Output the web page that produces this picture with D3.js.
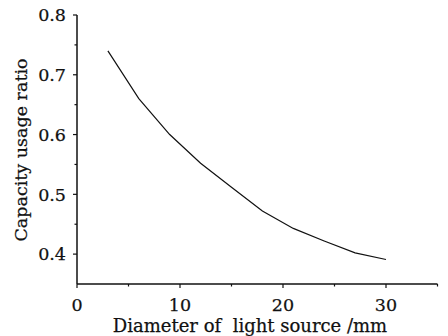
<!DOCTYPE html>
<html>
<head>
<meta charset="utf-8">
<script src="https://cdn.jsdelivr.net/npm/d3@7"></script>
<style>
  body { margin: 0; background: #fff; }
  svg text { font-family: "DejaVu Serif", serif; fill: #111; stroke: #111; stroke-width: 0.25; }
</style>
</head>
<body>
<svg id="chart" width="448" height="336"></svg>
<script>
// diameter of light source (mm) and capacity usage ratio
const diameters = [3, 6, 9, 12, 15, 18, 21, 24, 27, 30];
const ratios = [0.74, 0.66, 0.60, 0.552, 0.512, 0.472, 0.443, 0.422, 0.402, 0.391];
const xTicks = [0, 10, 20, 30];
const yTicks = [0.4, 0.5, 0.6, 0.7, 0.8];

const svg = d3.select("#chart");

const x = d3.scaleLinear().domain([0, 35]).range([77, 437.5]);
const y = d3.scaleLinear().domain([0.35, 0.8]).range([284, 15]);

// bottom axis
const xAxis = svg.append("g").attr("transform", "translate(0,284)");
xAxis.append("line")
  .attr("x1", x(0)).attr("x2", x(35))
  .attr("stroke", "#111").attr("stroke-width", 1.5);
xAxis.selectAll(".minor").data([5, 15, 25, 35]).enter().append("line")
  .attr("x1", d => x(d)).attr("x2", d => x(d))
  .attr("y1", 0).attr("y2", 2.5)
  .attr("stroke", "#111").attr("stroke-width", 1.2);
xAxis.selectAll(".major").data(xTicks).enter().append("line")
  .attr("x1", d => x(d)).attr("x2", d => x(d))
  .attr("y1", 0).attr("y2", 4)
  .attr("stroke", "#111").attr("stroke-width", 1.2);
xAxis.selectAll("text").data(xTicks).enter().append("text")
  .attr("x", d => x(d)).attr("y", 27)
  .attr("text-anchor", "middle")
  .attr("font-size", 17.5)
  .text(d => d);

// left axis
const yAxis = svg.append("g").attr("transform", "translate(77,0)");
yAxis.append("line")
  .attr("y1", y(0.35)).attr("y2", y(0.8))
  .attr("stroke", "#111").attr("stroke-width", 1.5);
yAxis.selectAll(".minor").data([0.45, 0.55, 0.65, 0.75]).enter().append("line")
  .attr("y1", d => y(d)).attr("y2", d => y(d))
  .attr("x1", 0).attr("x2", -2.5)
  .attr("stroke", "#111").attr("stroke-width", 1.2);
yAxis.selectAll(".major").data(yTicks).enter().append("line")
  .attr("y1", d => y(d)).attr("y2", d => y(d))
  .attr("x1", 0).attr("x2", -4)
  .attr("stroke", "#111").attr("stroke-width", 1.2);
yAxis.selectAll("text").data(yTicks).enter().append("text")
  .attr("x", -11).attr("y", d => y(d))
  .attr("dy", "0.36em")
  .attr("text-anchor", "end")
  .attr("font-size", 17.5)
  .text(d => d3.format(".1f")(d));

// axis titles
svg.append("text")
  .attr("x", 250).attr("y", 332)
  .attr("text-anchor", "middle")
  .attr("font-size", 18)
  .style("white-space", "pre")
  .text("Diameter of  light source /mm");

svg.append("text")
  .attr("transform", "translate(27,150) rotate(-90)")
  .attr("text-anchor", "middle")
  .attr("font-size", 17.5)
  .text("Capacity usage ratio");

// the curve
const line = d3.line()
  .x((d, i) => x(diameters[i]))
  .y(d => y(d));

svg.append("path")
  .datum(ratios)
  .attr("d", line)
  .attr("fill", "none")
  .attr("stroke", "#111")
  .attr("stroke-width", 1.2);
</script>
</body>
</html>
